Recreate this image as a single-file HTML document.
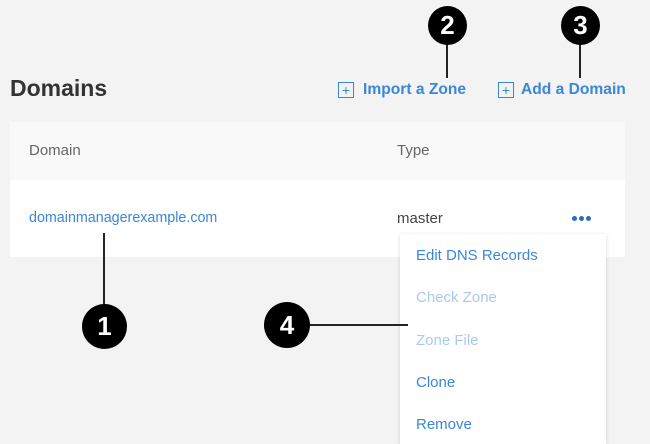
<!DOCTYPE html>
<html><head><style>
body{margin:0;width:650px;height:436px;background:#f3f3f3;position:relative;overflow:hidden;font-family:"Liberation Sans",sans-serif}
.a{position:absolute;white-space:nowrap}
.c{position:absolute;border-radius:50%;background:#000;color:#fff;font-weight:bold;text-align:center;font-size:26px}
.l{position:absolute;background:#222}
.box{position:absolute;width:14px;height:14px;border:1px solid #3a87d8;color:#3a87d8;font-size:14px;line-height:14px;text-align:center}
.m{position:absolute;left:416px;font-size:15px;color:#3a87d8}
.d{position:absolute;top:216px;width:5px;height:5px;border-radius:50%;background:#2b6cc0}
</style></head><body>
<div class="a" style="left:10px;top:75px;font-size:23px;font-weight:bold;color:#333">Domains</div>
<div class="box" style="left:338px;top:82px">+</div>
<div class="a" style="left:363px;top:81px;font-size:15.6px;font-weight:bold;color:#3a87d8">Import a Zone</div>
<div class="box" style="left:498px;top:82px">+</div>
<div class="a" style="left:521px;top:81px;font-size:15.6px;font-weight:bold;color:#3a87d8">Add a Domain</div>
<div class="a" style="left:10px;top:122px;width:615px;height:58px;background:#f9f9f9"></div>
<div class="a" style="left:10px;top:180px;width:615px;height:77px;background:#fff"></div>
<div class="a" style="left:29px;top:142px;font-size:15px;color:#666">Domain</div>
<div class="a" style="left:397px;top:142px;font-size:15px;color:#666">Type</div>
<div class="a" style="left:29px;top:210px;font-size:14.3px;color:#3a87d8">domainmanagerexample.com</div>
<div class="a" style="left:397px;top:210px;font-size:15px;color:#444">master</div>
<div class="d" style="left:572px"></div><div class="d" style="left:579px"></div><div class="d" style="left:586px"></div>
<div class="a" style="left:400px;top:234px;width:206px;height:210px;background:#fff;box-shadow:0 1px 4px rgba(0,0,0,.15)"></div>
<div class="m" style="top:247px">Edit DNS Records</div>
<div class="m" style="top:289px;color:#a9c9ee">Check Zone</div>
<div class="m" style="top:332px;color:#a9c9ee">Zone File</div>
<div class="m" style="top:374px">Clone</div>
<div class="m" style="top:416px">Remove</div>
<div class="l" style="left:446px;top:40px;width:2px;height:38px"></div>
<div class="l" style="left:579px;top:40px;width:2px;height:38px"></div>
<div class="l" style="left:103px;top:233px;width:2px;height:80px"></div>
<div class="l" style="left:300px;top:324px;width:108px;height:2px"></div>
<div class="c" style="left:428px;top:6px;width:39px;height:39px;line-height:39px">2</div>
<div class="c" style="left:561px;top:6px;width:39px;height:39px;line-height:39px">3</div>
<div class="c" style="left:82px;top:304px;width:45px;height:45px;line-height:45px">1</div>
<div class="c" style="left:264px;top:302px;width:46px;height:46px;line-height:46px">4</div>
</body></html>
